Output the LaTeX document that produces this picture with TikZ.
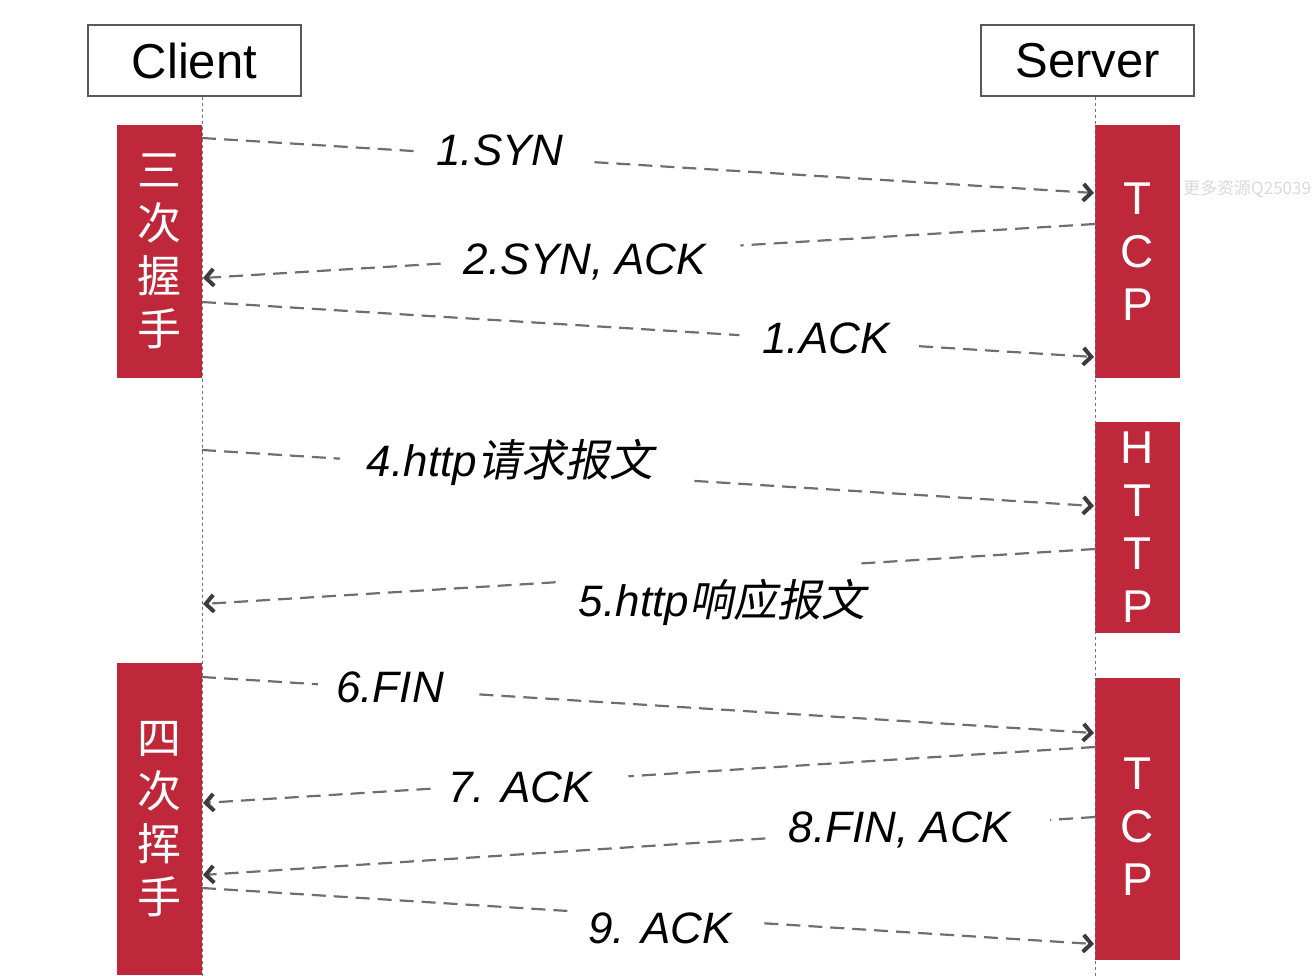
\documentclass[tikz,border=0pt]{standalone}
\usepackage{fontspec}
\setmainfont{Liberation Sans}
\newfontfamily\cjk{Noto Sans CJK SC}
\newfontfamily\cjkit{Noto Sans CJK SC}[FakeSlant=0.2]
\usetikzlibrary{arrows.meta,calc}
\definecolor{boxred}{RGB}{190,40,58}
\definecolor{linegray}{RGB}{110,110,110}
\definecolor{tipgray}{RGB}{60,60,60}
\begin{document}
\begin{tikzpicture}[x=1pt,y=-1pt,
  actor/.style={draw=black!65, line width=1.5pt, minimum width=213pt, minimum height=71pt,
    inner sep=0, font=\fontsize{49}{55}\selectfont},
  redbox/.style={fill=boxred, draw=none, minimum width=85pt, inner sep=0, text=white,
    align=center},
  cjkbox/.style={font=\cjk\fontsize{44}{53}\selectfont},
  latbox/.style={font=\fontsize{46}{53}\selectfont},
  life/.style={draw=black!55, line width=1pt, dash pattern=on 3pt off 3pt},
  msg/.style={draw=linegray, line width=2.2pt, dash pattern=on 14pt off 8pt},
  tipped/.style={-{Straight Barb[length=8pt,width=17pt,line width=4pt 0,color=tipgray]}},
  lbl/.style={font=\fontsize{44}{50}\selectfont\itshape, text=black, inner sep=0},
  wmark/.style={font=\cjk\fontsize{17}{17}\selectfont, text=black!15, inner sep=0, anchor=west}
]
\useasboundingbox (0,0) rectangle (1312,976);

% actors
\node[actor] (client) at (194.5,60.5) {Client};
\node[actor] (server) at (1087.5,60.5) {Server};

% red boxes
\node[redbox, cjkbox, minimum height=253pt] (hs) at (159.5,251.5) {三\\次\\握\\手};
\node[redbox, latbox, minimum height=253pt] (tcp1) at (1137.5,251.5) {T\\C\\P};
\node[redbox, latbox, minimum height=211pt] (http) at (1137.5,527.5) {H\\T\\T\\P};
\node[redbox, cjkbox, minimum height=312pt] (wave) at (159.5,819) {四\\次\\挥\\手};
\node[redbox, minimum height=282pt] (tcp2) at (1137.5,819) {};
\node[text=white, latbox, align=center, inner sep=0] (tcp2t) at (1137.5,827) {T\\C\\P};

% lifelines
\coordinate (cbot) at (202,976);
\coordinate (sbot) at (1095,976);
\draw[life] (client.south -| cbot) -- (cbot);
\draw[life] (server.south -| sbot) -- (sbot);

% watermark
\node[wmark] (wm) at (1183,189) {更多资源Q25039};

% message end points
\coordinate (s1) at (202,138);  \coordinate (e1) at (1094,193);
\coordinate (s2) at (1095,224); \coordinate (e2) at (203,278);
\coordinate (s3) at (202,302);  \coordinate (e3) at (1094,357);
\coordinate (s4) at (202,450);  \coordinate (e4) at (1094,506);
\coordinate (s5) at (1095,549); \coordinate (e5) at (203,604);
\coordinate (s6) at (202,677);  \coordinate (e6) at (1094,733);
\coordinate (s7) at (1095,747); \coordinate (e7) at (203,803);
\coordinate (s8) at (1095,817); \coordinate (e8) at (203,875);
\coordinate (s9) at (202,888);  \coordinate (e9) at (1094,944);

% messages
\draw[msg] (s1) -- ($(s1)!0.2385!(e1)$);
\draw[msg,tipped] ($(s1)!0.44!(e1)$) -- (e1);
\node[lbl] (l1) at (500,150) {1.SYN};

\draw[msg] (s2) -- ($(s2)!0.3975!(e2)$);
\draw[msg,tipped] ($(s2)!0.7335!(e2)$) -- (e2);
\node[lbl] (l2) at (585,262) {2.SYN, ACK};

\draw[msg] (s3) -- ($(s3)!0.6025!(e3)$);
\draw[msg,tipped] ($(s3)!0.804!(e3)$) -- (e3);
\node[lbl] (l3) at (826,338) {1.ACK};

\draw[msg] (s4) -- ($(s4)!0.1545!(e4)$);
\draw[msg,tipped] ($(s4)!0.552!(e4)$) -- (e4);
\node[lbl] (l4) at (510,462) {4.http{\cjkit 请求报文}};

\draw[msg] (s5) -- ($(s5)!0.2688!(e5)$);
\draw[msg,tipped] ($(s5)!0.6047!(e5)$) -- (e5);
\node[lbl] (l5) at (722,602) {5.http{\cjkit 响应报文}};

\draw[msg] (s6) -- ($(s6)!0.13!(e6)$);
\draw[msg,tipped] ($(s6)!0.311!(e6)$) -- (e6);
\node[lbl] (l6) at (390,687) {6.FIN};

\draw[msg] (s7) -- ($(s7)!0.523!(e7)$);
\draw[msg,tipped] ($(s7)!0.745!(e7)$) -- (e7);
\node[lbl] (l7) at (520,787) {7. ACK};

\draw[msg] (s8) -- ($(s8)!0.0504!(e8)$);
\draw[msg,tipped] ($(s8)!0.3695!(e8)$) -- (e8);
\node[lbl] (l8) at (900,830) {8.FIN, ACK};

\draw[msg] (s9) -- ($(s9)!0.41!(e9)$);
\draw[msg,tipped] ($(s9)!0.6305!(e9)$) -- (e9);
\node[lbl] (l9) at (660,928) {9. ACK};
\end{tikzpicture}
\end{document}
